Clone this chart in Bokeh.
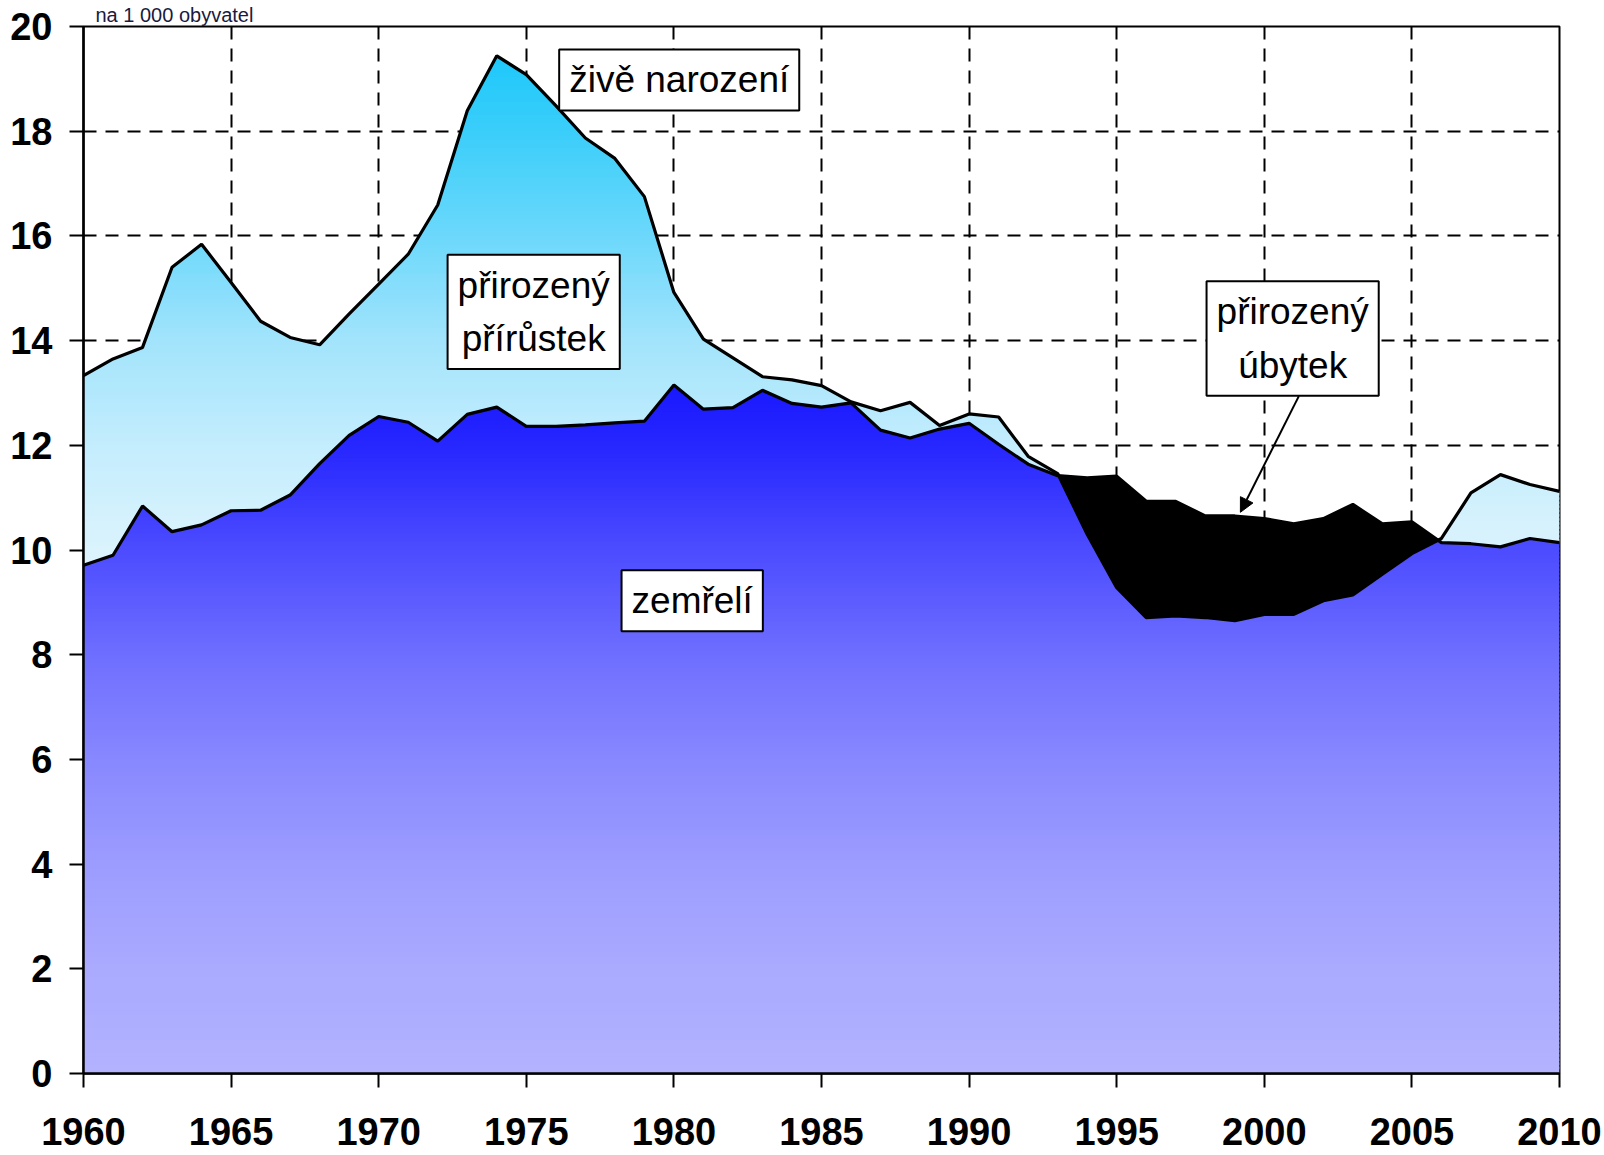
import numpy as np
from bokeh.plotting import figure
from bokeh.models import Label, Arrow, NormalHead, FixedTicker, Range1d
from bokeh.embed import file_html
from bokeh.resources import INLINE

# ---------------- data (per 1 000 inhabitants) ----------------
years = list(range(1960, 2011))
births = [13.33, 13.65, 13.87, 15.40, 15.84, 15.11, 14.37, 14.06, 13.92, 14.51,
          15.08, 15.65, 16.59, 18.39, 19.44, 19.08, 18.49, 17.87, 17.48, 16.75,
          14.92, 14.03, 13.67, 13.31, 13.25, 13.14, 12.83, 12.66, 12.82, 12.38,
          12.60, 12.54, 11.79, 11.46, 10.30, 9.28, 8.71, 8.74, 8.71, 8.65,
          8.77, 8.77, 9.03, 9.14, 9.54, 9.93, 10.22, 11.09, 11.44, 11.25,
          11.12]
deaths = [9.71, 9.90, 10.84, 10.35, 10.48, 10.75, 10.76, 11.05, 11.65, 12.19,
          12.55, 12.44, 12.08, 12.59, 12.73, 12.36, 12.36, 12.39, 12.43, 12.46,
          13.15, 12.69, 12.72, 13.05, 12.80, 12.73, 12.81, 12.29, 12.14, 12.31,
          12.42, 12.02, 11.64, 11.42, 11.38, 11.41, 10.93, 10.93, 10.65, 10.65,
          10.60, 10.50, 10.60, 10.87, 10.50, 10.54, 10.14, 10.12, 10.06, 10.22,
          10.14]
x_ticks = [1960, 1965, 1970, 1975, 1980, 1985, 1990, 1995, 2000, 2005, 2010]
y_ticks = [0, 2, 4, 6, 8, 10, 12, 14, 16, 18, 20]

unit_title = "na 1 000 obyvatel"
label_births = "živě narození"
label_increase = "přirozený\npřírůstek"
label_deaths = "zemřelí"
label_decrease = "přirozený\núbytek"

# gradient stops (value -> colour)
blue_stops_v = [0, 2, 4, 6, 8, 10, 12, 13.15]
blue_stops_c = [178, 170, 156, 136, 110, 76, 38, 24]
cyan_stops_v = [9.7, 12, 14, 16, 18, 19.44]
cyan_stops_r = [222, 196, 162, 108, 58, 30]
cyan_stops_g = [244, 237, 228, 216, 206, 200]
cyan_stops_b = [253, 253, 252, 251, 250, 250]

# ---------------- figure ----------------
p = figure(width=1604, height=1155, output_backend="svg", toolbar_location=None,
           x_range=Range1d(1960, 2010), y_range=Range1d(0, 20),
           min_border_left=83, min_border_right=45, min_border_top=26,
           min_border_bottom=82, title=unit_title)
p.background_fill_color = "white"
p.border_fill_color = "white"
p.outline_line_color = "black"
p.outline_line_width = 2
p.title.align = "left"
p.title.offset = 12
p.title.standoff = 2
p.title.text_font = "Liberation Sans"
p.title.text_font_style = "normal"
p.title.text_font_size = "20px"
p.title.text_color = "#1a1a40"

xk = np.array(years, dtype=float)
b = np.array(births)
d = np.array(deaths)


def cross(f, g):
    h = f - g
    i = np.where(h[:-1] * h[1:] < 0)[0]
    t = h[i] / (h[i] - h[i + 1])
    return xk[i] + t * (xk[i + 1] - xk[i])


def band(lower_fn, upper_fn, lo, hi):
    pts = [xk, cross(b, d)]
    for f in (b, d):
        for lv in (lo, hi):
            pts.append(cross(f, np.full_like(f, lv)))
    bx = np.unique(np.concatenate(pts))
    bb = np.interp(bx, xk, b)
    dd = np.interp(bx, xk, d)
    L = lower_fn(bb, dd)
    U = upper_fn(bb, dd)
    y1 = np.clip(L, lo, hi)
    y2 = np.clip(U, lo, hi)
    if np.all(y2 - y1 < 1e-9):
        return None
    return list(bx) + list(bx[::-1]), list(y2) + list(y1[::-1])


def gradient_patches(lower_fn, upper_fn, vmin, vmax, colour_fn, step=0.08):
    xs, ys, cols = [], [], []
    for lo in np.arange(vmin, vmax + step, step):
        res = band(lower_fn, upper_fn, lo, lo + step * 1.6)
        if res is None:
            continue
        xs.append(res[0])
        ys.append(res[1])
        cols.append(colour_fn(lo + step / 2))
    p.patches(xs, ys, fill_color=cols, line_color=None)


def blue_colour(v):
    c = int(round(np.interp(v, blue_stops_v, blue_stops_c)))
    return "#%02x%02xff" % (c, c)


def cyan_colour(v):
    r = int(round(np.interp(v, cyan_stops_v, cyan_stops_r)))
    g = int(round(np.interp(v, cyan_stops_v, cyan_stops_g)))
    bl = int(round(np.interp(v, cyan_stops_v, cyan_stops_b)))
    return "#%02x%02x%02x" % (r, g, bl)


# dark blue: deaths (up to the lower of the two curves)
mn = np.minimum(b, d)
gradient_patches(lambda bb, dd: np.zeros_like(bb), lambda bb, dd: np.minimum(bb, dd),
                 0.0, float(mn.max()), blue_colour)
# light blue: natural increase
gradient_patches(lambda bb, dd: dd, lambda bb, dd: np.maximum(bb, dd),
                 9.6, float(b.max()), cyan_colour)
# black: natural decrease
res = band(lambda bb, dd: bb, lambda bb, dd: np.maximum(bb, dd), 0, 20)
p.patch(res[0], res[1], fill_color="black", line_color=None)

p.line(years, births, line_color="black", line_width=3.2)
p.line(years, deaths, line_color="black", line_width=3.2)

# ---------------- axes & grid ----------------
for ax, ticks in ((p.xaxis, x_ticks), (p.yaxis, y_ticks)):
    ax.ticker = FixedTicker(ticks=ticks)
    ax.axis_line_color = "black"
    ax.axis_line_width = 2.5
    ax.major_tick_line_color = "black"
    ax.major_tick_line_width = 2
    ax.major_tick_in = 0
    ax.major_tick_out = 14
    ax.minor_tick_line_color = None
    ax.major_label_text_font = "Liberation Sans"
    ax.major_label_text_font_style = "bold"
    ax.major_label_text_font_size = "38px"
    ax.major_label_text_color = "black"
p.xaxis.major_label_standoff = 30
p.yaxis.major_label_standoff = 17

p.xgrid.ticker = FixedTicker(ticks=x_ticks)
p.ygrid.ticker = FixedTicker(ticks=y_ticks)
for g in (p.xgrid, p.ygrid):
    g.grid_line_color = "black"
    g.grid_line_width = 2
    g.grid_line_dash = "13 9"

# ---------------- annotations ----------------
p.add_layout(Arrow(x_start=2001.17, y_start=12.94, x_end=1999.19, y_end=10.72,
                   line_color="black", line_width=2,
                   end=NormalHead(size=14, fill_color="black", line_color="black")))


def box_label(x, y, text):
    p.add_layout(Label(x=x, y=y, text=text, text_align="center", text_baseline="middle",
                       text_font="Liberation Sans", text_font_size="37px",
                       text_color="black", text_line_height=1.3,
                       background_fill_color="white", border_line_color="black",
                       border_line_width=2, padding=dict(x=10, y=10)))


box_label(1980.18, 18.98, label_births)
box_label(1975.25, 14.55, label_increase)
box_label(1980.62, 9.03, label_deaths)
box_label(2000.96, 14.04, label_decrease)

open("out.html", "w").write(file_html(p, INLINE))
